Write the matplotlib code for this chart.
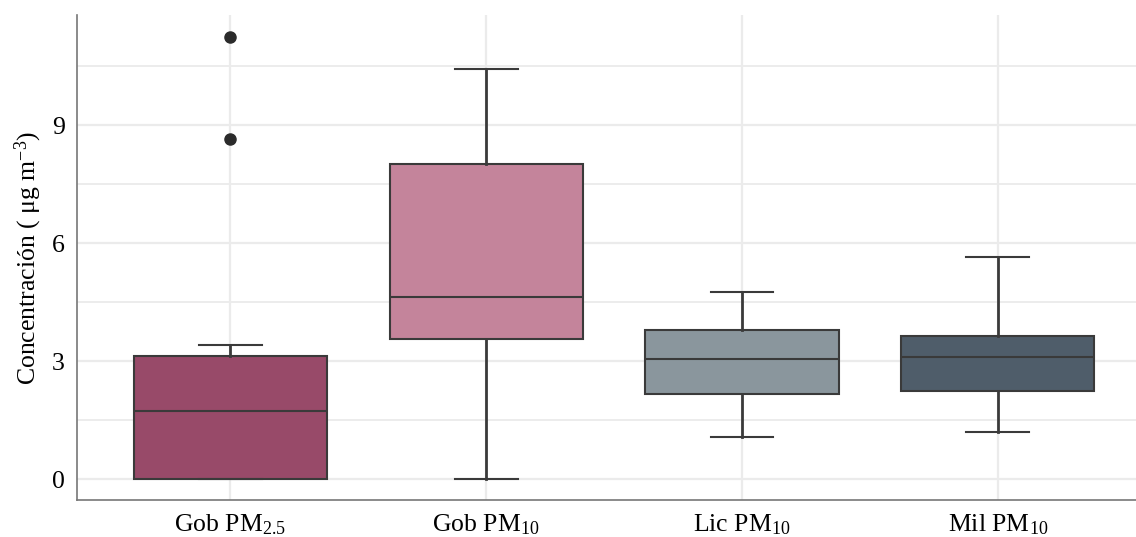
import matplotlib
matplotlib.use("Agg")
import matplotlib.pyplot as plt
from matplotlib.ticker import MultipleLocator

plt.rcParams['font.family'] = ['Liberation Serif', 'DejaVu Serif']
plt.rcParams['mathtext.fontset'] = 'custom'
plt.rcParams['mathtext.rm'] = 'Liberation Serif'
plt.rcParams['mathtext.it'] = 'Liberation Serif:italic'

categories = ["Gob PM$_{2.5}$", "Gob PM$_{10}$", "Lic PM$_{10}$", "Mil PM$_{10}$"]
q1 = [0.0, 3.55, 2.16, 2.23]
med = [1.73, 4.62, 3.05, 3.11]
q3 = [3.13, 8.01, 3.79, 3.64]
whislo = [0.0, 0.0, 1.08, 1.19]
whishi = [3.42, 10.42, 4.75, 5.64]
outliers = [[11.25, 8.64], [], [], []]
colors = ["#984A69", "#C4849B", "#8A969D", "#4F5D6A"]

fig = plt.figure(figsize=(11.36, 5.37), dpi=100)
ax = fig.add_axes([0.068, 0.069, 0.932, 0.903])

stats = []
for i in range(len(categories)):
    stats.append(dict(med=med[i], q1=q1[i], q3=q3[i], whislo=whislo[i],
                      whishi=whishi[i], fliers=outliers[i], label=categories[i]))

edge = "#3a3a3a"
bp = ax.bxp(stats, positions=range(len(categories)), widths=0.755,
            patch_artist=True, showfliers=True,
            boxprops=dict(edgecolor=edge, linewidth=1.5),
            medianprops=dict(color=edge, linewidth=1.5),
            whiskerprops=dict(color=edge, linewidth=2),
            capprops=dict(color=edge, linewidth=1.5),
            flierprops=dict(marker='o', markerfacecolor='#2b2b2b',
                            markeredgecolor='#2b2b2b', markersize=8))
for patch, c in zip(bp['boxes'], colors):
    patch.set_facecolor(c)
for i, cap in enumerate(bp['caps']):
    xd = cap.get_xdata()
    mid = (xd[0] + xd[1]) / 2
    cap.set_xdata([mid - 0.123, mid + 0.123])

ax.set_xlim(-0.598, 3.54)
ax.set_ylim(-0.53, 11.8)
ax.yaxis.set_major_locator(MultipleLocator(3))
ax.yaxis.set_minor_locator(MultipleLocator(1.5))
ax.set_axisbelow(True)
ax.grid(True, which='major', color='#ebebeb', linewidth=1.6)
ax.grid(True, which='minor', axis='y', color='#ebebeb', linewidth=1.3)
ax.tick_params(axis='both', which='both', length=0, labelsize=18.5)
ax.tick_params(axis='x', pad=9)
ax.tick_params(axis='y', pad=9)
ax.set_xticks(range(len(categories)))
ax.set_xticklabels(categories)
ax.set_ylabel("Concentración ( μg m$^{-3}$)", fontsize=18.5, labelpad=6)
for s in ['top', 'right']:
    ax.spines[s].set_visible(False)
for s in ['left', 'bottom']:
    ax.spines[s].set_color('#777777')
    ax.spines[s].set_linewidth(1.2)

fig.savefig("out.png", dpi=100)
